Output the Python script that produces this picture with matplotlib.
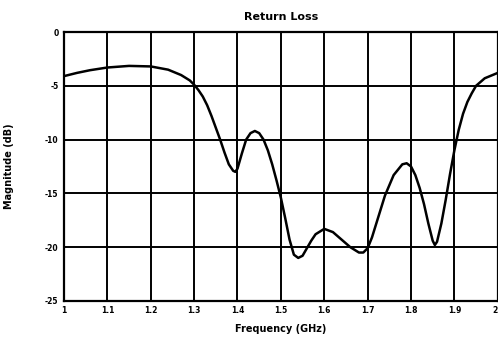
import matplotlib
matplotlib.use("Agg")
import matplotlib.pyplot as plt

freq = [1.00, 1.03, 1.06, 1.10, 1.15, 1.20, 1.24, 1.27, 1.29, 1.30, 1.31, 1.32, 1.33,
        1.34, 1.35, 1.36, 1.37, 1.38, 1.39, 1.395, 1.40, 1.41, 1.42, 1.43, 1.44, 1.45,
        1.46, 1.47, 1.48, 1.49, 1.50, 1.51, 1.52, 1.53, 1.54, 1.55, 1.56, 1.57, 1.58,
        1.60, 1.62, 1.64, 1.66, 1.68, 1.69, 1.70, 1.71, 1.72, 1.74, 1.76, 1.78, 1.79,
        1.80, 1.81, 1.82, 1.83, 1.84, 1.85, 1.855, 1.86, 1.87, 1.88, 1.89, 1.90, 1.91,
        1.92, 1.93, 1.94, 1.95, 1.97, 2.00]
mag_db = [-4.1, -3.8, -3.55, -3.3, -3.15, -3.2, -3.5, -4.0, -4.5, -4.9, -5.4, -6.0, -6.8,
          -7.8, -8.9, -10.0, -11.2, -12.3, -12.9, -13.0, -12.7, -11.3, -10.0, -9.4, -9.2, -9.4,
          -10.0, -11.0, -12.3, -13.8, -15.4, -17.3, -19.3, -20.7, -21.0, -20.8, -20.1, -19.4, -18.8,
          -18.3, -18.6, -19.3, -20.0, -20.5, -20.5, -20.1, -19.1, -17.8, -15.2, -13.3, -12.3, -12.2,
          -12.5, -13.3, -14.5, -16.0, -17.8, -19.4, -19.8, -19.5, -17.8, -15.6, -13.2, -11.0, -9.1,
          -7.6, -6.5, -5.7, -5.0, -4.3, -3.8]

xticks = [1.0, 1.1, 1.2, 1.3, 1.4, 1.5, 1.6, 1.7, 1.8, 1.9, 2.0]
xticklabels = ["1", "1.1", "1.2", "1.3", "1.4", "1.5", "1.6", "1.7", "1.8", "1.9", "2"]
yticks = [0, -5, -10, -15, -20, -25]
yticklabels = ["0", "-5", "-10", "-15", "-20", "-25"]

fig = plt.figure(figsize=(4.98, 3.37), dpi=100)
ax = fig.add_axes([0.1285, 0.107, 0.871, 0.798])
ax.plot(freq, mag_db, color="black", lw=1.8)
ax.set_xlim(1.0, 2.0)
ax.set_ylim(-25, 0)
ax.set_xticks(xticks)
ax.set_xticklabels(xticklabels, fontsize=5.5, fontweight="bold")
ax.get_xticklabels()[-1].set_horizontalalignment("right")
ax.set_yticks(yticks)
ax.set_yticklabels(yticklabels, fontsize=5.5, fontweight="bold")
ax.tick_params(length=0, pad=4)
ax.grid(True, color="black", lw=1.4)
for s in ax.spines.values():
    s.set_linewidth(1.6)
    s.set_color("black")
ax.set_title("Return Loss", fontsize=8, fontweight="bold", pad=9)
ax.set_xlabel("Frequency (GHz)", fontsize=7, fontweight="bold", labelpad=6)
ax.set_ylabel("Magnitude (dB)", fontsize=7, fontweight="bold", labelpad=22)
fig.savefig("out.png", dpi=100)
